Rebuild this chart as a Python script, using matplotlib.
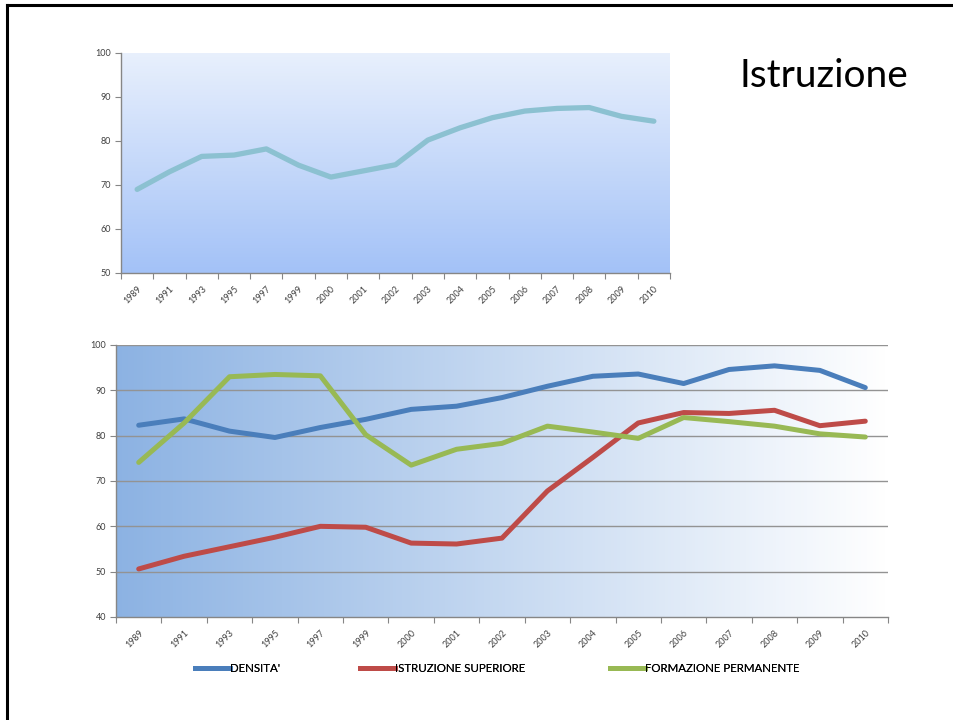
import matplotlib
matplotlib.use("Agg")
import matplotlib.pyplot as plt
import numpy as np
from matplotlib.lines import Line2D

plt.rcParams["font.family"] = ["Lato", "DejaVu Sans"]

# ── Data ──────────────────────────────────────────────────────────────────────
years = ["1989", "1991", "1993", "1995", "1997", "1999", "2000", "2001", "2002",
         "2003", "2004", "2005", "2006", "2007", "2008", "2009", "2010"]

istruzione = [69.0, 73.0, 76.5, 76.8, 78.2, 74.5, 71.8, 73.2, 74.6,
              80.2, 83.0, 85.3, 86.8, 87.4, 87.6, 85.6, 84.5]

densita = [82.3, 83.7, 81.0, 79.6, 81.8, 83.6, 85.8, 86.5, 88.4,
           90.9, 93.1, 93.6, 91.5, 94.6, 95.4, 94.4, 90.6]
istr_superiore = [50.6, 53.4, 55.5, 57.6, 60.0, 59.8, 56.3, 56.1, 57.4,
                  67.8, 75.2, 82.8, 85.1, 84.9, 85.6, 82.2, 83.2]
formazione = [74.1, 82.8, 93.0, 93.5, 93.2, 80.2, 73.5, 77.0, 78.3,
              82.1, 80.8, 79.4, 84.0, 83.1, 82.1, 80.4, 79.7]

series_names = ["DENSITA'", "ISTRUZIONE SUPERIORE", "FORMAZIONE PERMANENTE"]
series_colors = ["#4a7ebb", "#be4b48", "#98b954"]

W, H = 954, 720
fig = plt.figure(figsize=(W / 100, H / 100), dpi=100)


def px_axes(left, top, right, bottom):
    return fig.add_axes([left / W, 1 - bottom / H, (right - left) / W, (bottom - top) / H])


def style_category_axis(ax, ylo, yhi):
    n = len(years)
    x = np.arange(n) + 0.5
    ax.set_xlim(0, n)
    ax.set_ylim(ylo, yhi)
    ax.set_xticks(np.arange(n + 1))
    ax.set_xticklabels([])
    ax.set_xticks(x, minor=True)
    ax.set_xticklabels(years, minor=True, rotation=45, ha="right",
                       rotation_mode="anchor", fontsize=6.5, color="#404040")
    ax.tick_params(axis="x", which="minor", length=0, pad=8)
    ax.tick_params(axis="x", which="major", length=4, color="#868686", direction="out")
    ax.tick_params(axis="y", length=4, color="#868686", labelsize=6.5,
                   labelcolor="#404040", pad=3)
    for s in ["top", "right"]:
        ax.spines[s].set_visible(False)
    for s in ["left", "bottom"]:
        ax.spines[s].set_color("#868686")
        ax.spines[s].set_linewidth(1.0)
    return x


# ── Top chart ─────────────────────────────────────────────────────────────────
ax1 = px_axes(121, 53, 670, 273)
x = style_category_axis(ax1, 50, 100)
ax1.set_yticks(range(50, 101, 10))
grad_v = np.linspace(0, 1, 256).reshape(-1, 1)
c_top = np.array([0.91, 0.94, 0.99])
c_bot = np.array([0.64, 0.76, 0.97])
img_v = c_top + (c_bot - c_top) * grad_v[..., None]
ax1.imshow(img_v, extent=[0, len(years), 50, 100], aspect="auto", zorder=0)
ax1.plot(x, istruzione, color="#8cc1d1", linewidth=3.8, solid_capstyle="round", zorder=3)

fig.text(824 / W, 1 - 76 / H, "Istruzione", fontsize=28, ha="center", va="center",
         color="#000000")

# ── Bottom chart ──────────────────────────────────────────────────────────────
ax2 = px_axes(116, 345, 888, 617)
x = style_category_axis(ax2, 40, 100)
ax2.set_yticks(range(40, 101, 10))
grad_h = np.linspace(0, 1, 256).reshape(1, -1)
c_left = np.array([0.55, 0.70, 0.89])
c_right = np.array([1.0, 1.0, 1.0])
img_h = c_left + (c_right - c_left) * grad_h[..., None]
ax2.imshow(img_h, extent=[0, len(years), 40, 100], aspect="auto", zorder=0)
for yv in range(50, 101, 10):
    ax2.axhline(yv, color="#939393", linewidth=1.0, zorder=1)

for vals, color in zip([densita, istr_superiore, formazione], series_colors):
    ax2.plot(x, vals, color=color, linewidth=3.6, solid_capstyle="round", zorder=3)

# legend entries placed one by one, like the Excel layout
legend_x = [195, 360, 610]
for name, color, lx in zip(series_names, series_colors, legend_x):
    leg = fig.legend([Line2D([0], [0], color=color, linewidth=3.6)], [name],
                     loc="center left", bbox_to_anchor=(lx / W, 1 - 669 / H),
                     frameon=False, fontsize=8.3, handlelength=3.0, handletextpad=0.0,
                     borderpad=0, borderaxespad=0)
    fig.add_artist(leg)

# slide border
fig.add_artist(Line2D([7 / W, 7 / W], [0, 1 - 5 / H], color="black", linewidth=2.2))
fig.add_artist(Line2D([7 / W, 1], [1 - 5 / H, 1 - 5 / H], color="black", linewidth=2.2))

fig.savefig("out.png", dpi=100)
